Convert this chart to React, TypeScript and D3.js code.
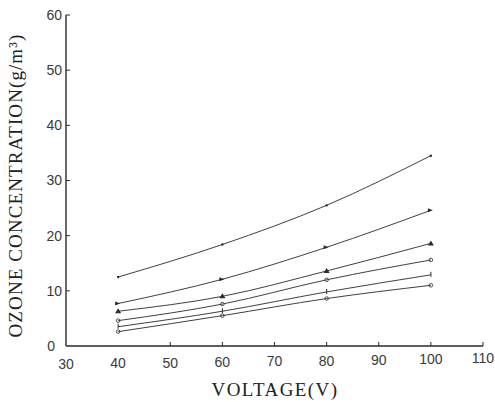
import React from "react";
import * as d3 from "d3";

// Applied voltage (V) at which ozone output was measured
const voltage = [40, 60, 80, 100];

// Ozone concentration (g/m³) for each of the six curves, top to bottom
const seriesA = [12.5, 18.4, 25.5, 34.5];
const seriesB = [7.7, 12.1, 17.9, 24.6];
const seriesC = [6.3, 9.0, 13.6, 18.6];
const seriesD = [4.6, 7.6, 12.0, 15.6];
const seriesE = [3.5, 6.3, 9.8, 12.9];
const seriesF = [2.6, 5.5, 8.6, 11.0];

const xTicks = [30, 40, 50, 60, 70, 80, 90, 100, 110];
const yTicks = [0, 10, 20, 30, 40, 50, 60];

const allSeries = [seriesA, seriesB, seriesC, seriesD, seriesE, seriesF];
const markerKinds = ["dot", "arrow", "triangle", "open", "tick", "open"];

const W = 495;
const H = 402;

export default function App() {
  const x = d3.scaleLinear().domain([30, 110]).range([66, 483]);
  const y = d3.scaleLinear().domain([0, 60]).range([346, 15]);

  const line = d3
    .line<number>()
    .x((_, i) => x(voltage[i]))
    .y((d) => y(d))
    .curve(d3.curveMonotoneX);

  const ink = "#2a2a2a";
  const tickFont = "'Liberation Sans', Arial, sans-serif";
  const titleFont = "'Liberation Serif', 'Times New Roman', serif";

  const marker = (kind: string, cx: number, cy: number, key: string) => {
    switch (kind) {
      case "dot":
        return <circle key={key} cx={cx} cy={cy} r={1.2} fill={ink} />;
      case "arrow":
        return (
          <path
            key={key}
            d={`M${cx - 3},${cy - 2}L${cx + 2},${cy}L${cx - 3},${cy + 2}Z`}
            fill={ink}
          />
        );
      case "triangle":
        return (
          <path
            key={key}
            d={`M${cx},${cy - 3}L${cx + 3},${cy + 2}L${cx - 3},${cy + 2}Z`}
            fill={ink}
          />
        );
      case "open":
        return (
          <circle key={key} cx={cx} cy={cy} r={1.8} fill="none" stroke={ink} strokeWidth={0.8} />
        );
      case "tick":
        return (
          <path key={key} d={`M${cx},${cy - 3}L${cx},${cy + 2}`} stroke={ink} strokeWidth={1} />
        );
      default:
        return null;
    }
  };

  return (
    <svg
      width={W}
      height={H}
      style={{ position: "absolute", left: 0, top: 0, background: "#fff" }}
    >
      {/* axes */}
      <line x1={x(30)} y1={y(60)} x2={x(30)} y2={y(0)} stroke={ink} strokeWidth={1.4} />
      <line x1={x(30)} y1={y(0)} x2={x(110)} y2={y(0)} stroke={ink} strokeWidth={1.4} />

      {/* y ticks and labels */}
      {yTicks.map((t) => (
        <g key={`y${t}`}>
          {t > 0 && (
            <line x1={x(30)} y1={y(t)} x2={x(30) + 4} y2={y(t)} stroke={ink} strokeWidth={1} />
          )}
          <text
            x={t === 0 ? 55 : 62}
            y={y(t)}
            dy="0.35em"
            textAnchor="end"
            fontFamily={tickFont}
            fontSize={14}
            fill="#3a3a3a"
          >
            {t}
          </text>
        </g>
      ))}

      {/* x ticks and labels */}
      {xTicks.map((t) => (
        <g key={`x${t}`}>
          {t > 40 && (
            <line x1={x(t)} y1={y(0)} x2={x(t)} y2={y(0) - 4} stroke={ink} strokeWidth={1} />
          )}
          <text
            x={x(t)}
            y={y(0) + 23 - (t - 30) * 0.07}
            textAnchor="middle"
            fontFamily={tickFont}
            fontSize={14}
            fill="#3a3a3a"
          >
            {t}
          </text>
        </g>
      ))}

      {/* curves */}
      {allSeries.map((s, i) => (
        <g key={`s${i}`}>
          <path d={line(s) ?? ""} fill="none" stroke={ink} strokeWidth={0.9} />
          {s.map((v, j) => marker(markerKinds[i], x(voltage[j]), y(v), `m${i}-${j}`))}
        </g>
      ))}

      {/* axis titles */}
      <text
        x={275}
        y={396}
        textAnchor="middle"
        fontFamily={titleFont}
        fontSize={19}
        letterSpacing={1.4}
        fill="#222"
      >
        VOLTAGE(V)
      </text>
      <text
        transform={`translate(22,${(28 + 343) / 2}) rotate(-90)`}
        textAnchor="middle"
        fontFamily={titleFont}
        fontSize={19}
        letterSpacing={1.1}
        fill="#222"
      >
        OZONE CONCENTRATION(g/m³)
      </text>
    </svg>
  );
}
